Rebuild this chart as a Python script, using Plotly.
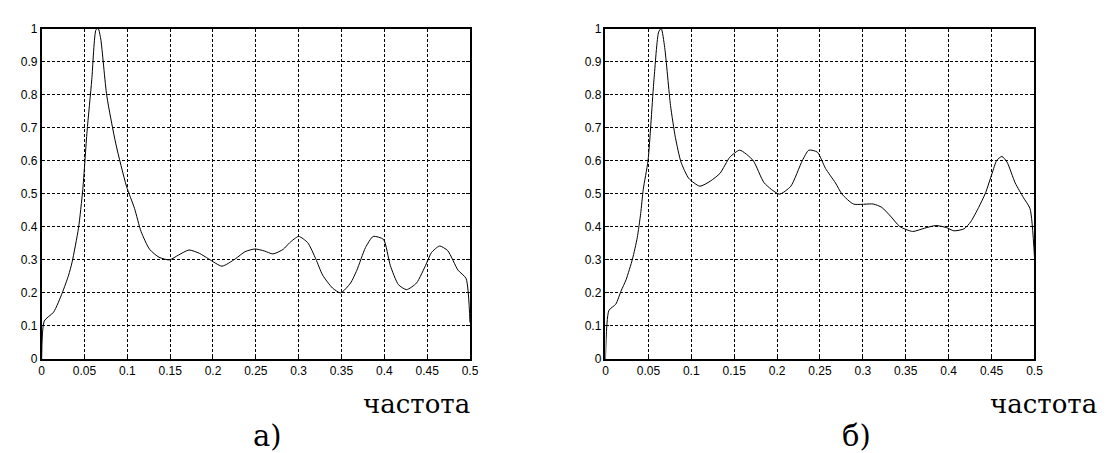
import plotly.graph_objects as go

# ---- data ----
freq_a = [0, 0.003, 0.014, 0.024, 0.0315, 0.0355, 0.043, 0.048, 0.053, 0.0585, 0.0635, 0.066, 0.069,
          0.076, 0.0866, 0.099, 0.1085, 0.116, 0.126, 0.137, 0.149, 0.16, 0.172, 0.184, 0.195, 0.2105,
          0.226, 0.2375, 0.249, 0.260, 0.270, 0.282, 0.2895, 0.300, 0.3106, 0.320, 0.328, 0.3395,
          0.349, 0.3606, 0.368, 0.378, 0.387, 0.399, 0.407, 0.4165, 0.426, 0.4376, 0.449, 0.455,
          0.4645, 0.474, 0.486, 0.4954, 0.5]
amp_a = [0, 0.115, 0.142, 0.20, 0.254, 0.293, 0.396, 0.513, 0.689, 0.845, 0.997, 1.0, 0.968,
         0.797, 0.651, 0.523, 0.455, 0.386, 0.332, 0.308, 0.30, 0.315, 0.33, 0.32, 0.303, 0.281,
         0.303, 0.325, 0.333, 0.327, 0.318, 0.332, 0.352, 0.371, 0.352, 0.303, 0.254, 0.215,
         0.20, 0.23, 0.269, 0.337, 0.371, 0.362, 0.283, 0.225, 0.21, 0.23, 0.288, 0.322,
         0.342, 0.328, 0.269, 0.244, 0.11]

freq_b = [0, 0.004, 0.012, 0.018, 0.024, 0.0315, 0.037, 0.041, 0.044, 0.0496, 0.0565, 0.062, 0.065,
          0.069, 0.0758, 0.0815, 0.088, 0.097, 0.110, 0.122, 0.1335, 0.145, 0.1565, 0.172, 0.185,
          0.2027, 0.216, 0.2295, 0.237, 0.247, 0.2564, 0.268, 0.2757, 0.289, 0.312, 0.322, 0.333,
          0.343, 0.358, 0.372, 0.385, 0.397, 0.406, 0.418, 0.4256, 0.435, 0.443, 0.4506, 0.456,
          0.462, 0.468, 0.4775, 0.487, 0.4948, 0.5]
amp_b = [0, 0.147, 0.166, 0.205, 0.24, 0.303, 0.367, 0.44, 0.513, 0.601, 0.845, 0.99, 1.0,
         0.943, 0.767, 0.67, 0.596, 0.547, 0.523, 0.538, 0.562, 0.611, 0.632, 0.601, 0.533,
         0.499, 0.523, 0.601, 0.632, 0.626, 0.577, 0.533, 0.499, 0.469, 0.469, 0.459, 0.43,
         0.401, 0.386, 0.396, 0.404, 0.398, 0.388, 0.394, 0.415, 0.459, 0.503, 0.562, 0.601,
         0.613, 0.596, 0.533, 0.489, 0.455, 0.308]

x_tick_vals = [0, 0.05, 0.1, 0.15, 0.2, 0.25, 0.3, 0.35, 0.4, 0.45, 0.5]
x_tick_text = ["0", "0.05", "0.1", "0.15", "0.2", "0.25", "0.3", "0.35", "0.4", "0.45", "0.5"]
y_tick_vals = [0, 0.1, 0.2, 0.3, 0.4, 0.5, 0.6, 0.7, 0.8, 0.9, 1.0]
y_tick_text = ["0", "0.1", "0.2", "0.3", "0.4", "0.5", "0.6", "0.7", "0.8", "0.9", "1"]

axis_label = "частота"
panel_labels = ["а)", "б)"]

# ---- figure ----
W, H = 1107, 453
fig = go.Figure()
fig.add_trace(go.Scatter(x=freq_a, y=amp_a, mode="lines",
                         line=dict(color="black", width=1, shape="spline", smoothing=0.6),
                         xaxis="x", yaxis="y", showlegend=False, hoverinfo="skip"))
fig.add_trace(go.Scatter(x=freq_b, y=amp_b, mode="lines",
                         line=dict(color="black", width=1, shape="spline", smoothing=0.6),
                         xaxis="x2", yaxis="y2", showlegend=False, hoverinfo="skip"))

def px_x(p):
    return p / W

def px_y(p):
    return 1 - p / H

tick_font = dict(family="Arial, Liberation Sans, sans-serif", size=12, color="black")

def xaxis(domain, anchor):
    return dict(domain=domain, anchor=anchor, range=[0, 0.5], tickvals=x_tick_vals,
                ticktext=x_tick_text, showgrid=True, gridcolor="black", gridwidth=1,
                griddash="3px,2px", showline=True, linecolor="black", linewidth=1.5,
                mirror="ticks", ticks="inside", ticklen=4, tickcolor="black",
                tickfont=tick_font, zeroline=False, fixedrange=True)

def yaxis(domain, anchor):
    return dict(domain=domain, anchor=anchor, range=[0, 1], tickvals=y_tick_vals,
                ticktext=y_tick_text, showgrid=True, gridcolor="black", gridwidth=1,
                griddash="3px,2px", showline=True, linecolor="black", linewidth=1.5,
                mirror="ticks", ticks="inside", ticklen=4, tickcolor="black",
                tickfont=tick_font, zeroline=False, fixedrange=True)

ydom = [px_y(355), px_y(14)]
fig.update_layout(
    width=W, height=H,
    margin=dict(l=0, r=0, t=0, b=0),
    paper_bgcolor="white", plot_bgcolor="white",
    xaxis=xaxis([px_x(31), px_x(464)], "y"),
    yaxis=yaxis(ydom, "x"),
    xaxis2=xaxis([px_x(601), px_x(1034.7)], "y2"),
    yaxis2=yaxis(ydom, "x2"),
)

label_font = dict(family="DejaVu Serif", size=26, color="black")
panel_font = dict(family="DejaVu Serif", size=29, color="black")
annotations = [
    dict(text=axis_label, x=px_x(466), y=px_y(401), xanchor="right", yanchor="middle", font=label_font),
    dict(text=axis_label, x=px_x(1100), y=px_y(401), xanchor="right", yanchor="middle", font=label_font),
    dict(text=panel_labels[0], x=px_x(259), y=px_y(434), xanchor="center", yanchor="middle", font=panel_font),
    dict(text=panel_labels[1], x=px_x(855), y=px_y(434), xanchor="center", yanchor="middle", font=panel_font),
]
for a in annotations:
    a.update(xref="paper", yref="paper", showarrow=False)
fig.update_layout(annotations=annotations)

fig.write_html("out.html")
